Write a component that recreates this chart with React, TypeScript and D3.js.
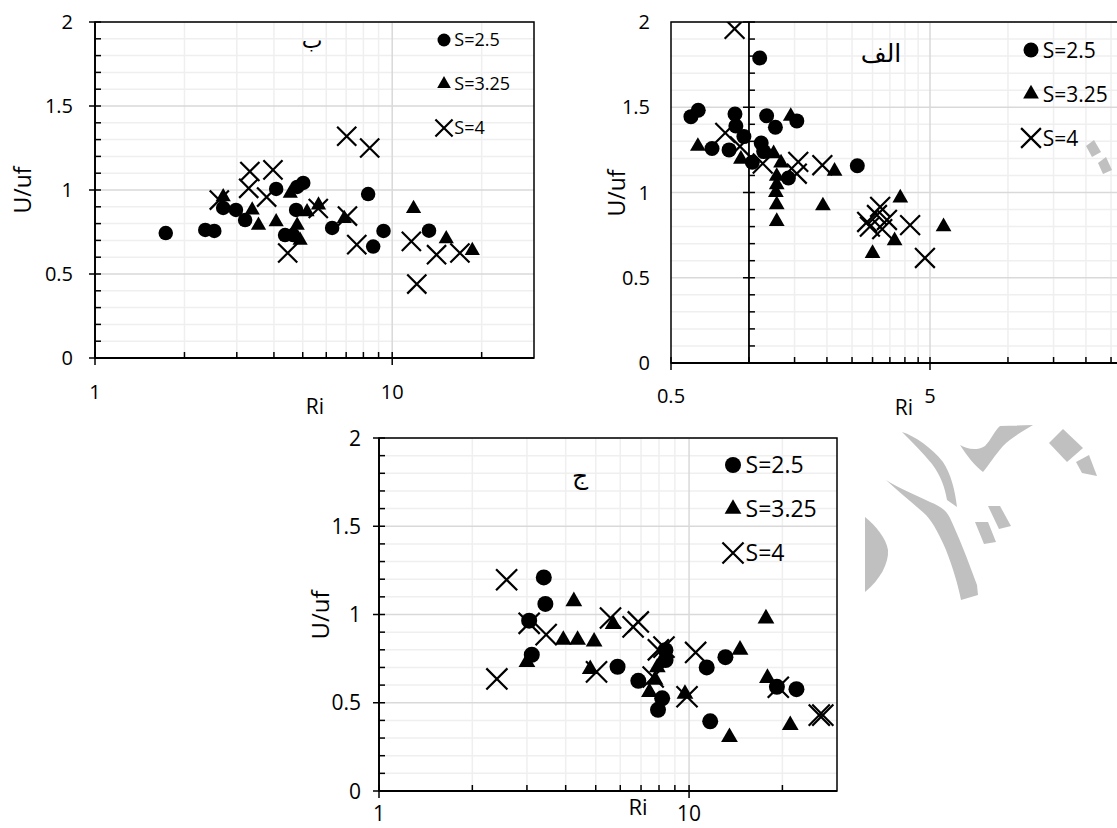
import React from 'react';
import * as d3 from 'd3';

// ---------- DATA ----------
const seriesNames = ['S=2.5', 'S=3.25', 'S=4'];
const yTickValues = [0, 0.5, 1, 1.5, 2];
const yTickLabels = ['0', '0.5', '1', '1.5', '2'];

// Panel ب (top-left)
const bCircleRi = [1.73, 2.35, 2.52, 2.70, 2.98, 3.20, 4.07, 4.36, 4.64, 4.75, 4.79, 5.02, 6.28, 8.30, 8.63, 9.35, 13.3];
const bCircleU = [0.744, 0.762, 0.756, 0.893, 0.881, 0.821, 1.006, 0.732, 0.732, 0.881, 1.018, 1.042, 0.774, 0.976, 0.663, 0.756, 0.758];
const bTriRi = [2.70, 3.38, 3.55, 4.07, 4.54, 4.79, 4.90, 5.17, 5.65, 6.9, 11.8, 15.2, 18.6];
const bTriU = [0.96, 0.88, 0.79, 0.81, 0.98, 0.79, 0.70, 0.87, 0.91, 0.83, 0.89, 0.71, 0.64];
const bXRi = [2.62, 3.29, 3.32, 3.78, 3.97, 4.45, 5.64, 7.03, 7.07, 7.6, 8.4, 11.6, 12.1, 14.1, 16.9];
const bXU = [0.94, 1.01, 1.11, 0.958, 1.12, 0.625, 0.89, 1.32, 0.845, 0.675, 1.25, 0.694, 0.44, 0.615, 0.625];
const bXTickValues = [1, 10];
const bXTickLabels = ['1', '10'];

// Panel الف (top-right)
const aCircleRi = [0.597, 0.637, 0.72, 0.838, 0.883, 0.89, 0.956, 1.03, 1.10, 1.115, 1.14, 1.17, 1.265, 1.42, 1.53, 2.62];
const aCircleU = [1.445, 1.482, 1.258, 1.25, 1.46, 1.39, 1.328, 1.177, 1.789, 1.29, 1.24, 1.45, 1.383, 1.085, 1.42, 1.157];
const aTriRi = [0.635, 0.931, 1.245, 1.33, 1.28, 1.28, 1.27, 1.28, 1.28, 1.45, 1.93, 2.14, 3.0, 3.65, 3.84, 5.64];
const aTriU = [1.271, 1.196, 1.228, 1.173, 1.095, 1.046, 1.001, 0.929, 0.831, 1.447, 0.922, 1.125, 0.643, 0.717, 0.968, 0.80];
const aXRi = [0.88, 0.81, 0.923, 1.13, 1.55, 1.53, 1.92, 2.86, 2.93, 3.12, 3.21, 3.41, 3.27, 4.19, 4.78];
const aXU = [1.96, 1.35, 1.27, 1.17, 1.18, 1.11, 1.16, 0.827, 0.80, 0.868, 0.915, 0.839, 0.785, 0.809, 0.616];
const aXTickValues = [0.5, 5];
const aXTickLabels = ['0.5', '5'];

// Panel ج (bottom)
const cCircleRi = [3.05, 3.11, 3.40, 3.44, 5.88, 6.86, 7.94, 8.19, 8.40, 8.39, 11.4, 11.7, 13.1, 19.2, 22.2];
const cCircleU = [0.965, 0.772, 1.21, 1.06, 0.704, 0.624, 0.46, 0.525, 0.742, 0.798, 0.70, 0.395, 0.758, 0.59, 0.577];
const cTriRi = [3.0, 4.25, 3.93, 4.37, 4.94, 4.80, 5.69, 7.45, 7.77, 7.9, 9.7, 13.5, 14.6, 17.7, 17.9, 21.2];
const cTriU = [0.73, 1.075, 0.856, 0.856, 0.846, 0.69, 0.945, 0.56, 0.63, 0.70, 0.55, 0.305, 0.80, 0.977, 0.64, 0.373];
const cXRi = [2.40, 2.58, 3.05, 3.46, 5.03, 5.58, 6.6, 6.86, 7.66, 7.96, 8.3, 9.85, 10.5, 19.4, 26.3, 27.0];
const cXU = [0.635, 1.197, 0.95, 0.886, 0.675, 0.98, 0.93, 0.958, 0.646, 0.80, 0.815, 0.534, 0.785, 0.588, 0.43, 0.43];
const cXTickValues = [1, 10];
const cXTickLabels = ['1', '10'];

// ---------- DRAWING ----------
const FONT = "'Open Sans', 'Liberation Sans', sans-serif";
const AR_FONT = "'DejaVu Sans', sans-serif";

type Pt = [number, number];
const zip = (a: number[], b: number[]): Pt[] => a.map((v, i) => [v, b[i]]);

function Marker({ kind, x, y, size }: { kind: number; x: number; y: number; size: number }) {
  if (kind === 0) return <circle cx={x} cy={y} r={size * 0.5} fill="#000" />;
  if (kind === 1) {
    const s = size * 1.05;
    const p = `M${x},${y - s * 0.58}L${x + s / 2},${y + s * 0.29}L${x - s / 2},${y + s * 0.29}Z`;
    return <path d={p} fill="#000" />;
  }
  const h = size * 0.66;
  return (
    <path d={`M${x - h},${y - h}L${x + h},${y + h}M${x - h},${y + h}L${x + h},${y - h}`} stroke="#000" strokeWidth={2.2} fill="none" />
  );
}

interface PanelProps {
  id: string;
  xDomain: [number, number];
  xRange: [number, number];
  yRange: [number, number];
  yAxisAtRi: number;
  xMinor: number[];
  xMajor: number[];
  xTickValues: number[];
  xTickLabels: string[];
  series: Pt[][];
  markerSize: number;
  tickFont: number;
  axisFont: number;
  legendFont: number;
  legend: { x: number; y0: number; dy: number; size: number };
  title: { text: string; x: number; y: number; size: number };
  yLabelRight: number;
  xLabelY: number;
  riPos: [number, number];
  ufPos: [number, number];
}

function Panel(p: PanelProps) {
  const x = d3.scaleLog().domain(p.xDomain).range(p.xRange);
  const y = d3.scaleLinear().domain([0, 2]).range(p.yRange);
  const [x0, x1] = p.xRange;
  const [yb, yt] = p.yRange;
  const axX = x(p.yAxisAtRi);
  const minorY = d3.range(1, 20).map((i) => i / 10).filter((v) => Math.abs(v * 2 - Math.round(v * 2)) > 1e-6);
  const clipId = `clip-${p.id}`;
  return (
    <g>
      <defs>
        <clipPath id={clipId}>
          <rect x={x0} y={yt} width={x1 - x0} height={yb - yt} />
        </clipPath>
      </defs>
      <rect x={x0} y={yt} width={x1 - x0} height={yb - yt} fill="#fff" />
      {minorY.map((v) => (
        <line key={'hm' + v} x1={x0} x2={x1} y1={y(v)} y2={y(v)} stroke="#efefef" strokeWidth={1.5} />
      ))}
      {p.xMinor.map((v) => (
        <line key={'vm' + v} x1={x(v)} x2={x(v)} y1={yt} y2={yb} stroke="#efefef" strokeWidth={1.5} />
      ))}
      {yTickValues.map((v) => (
        <line key={'hM' + v} x1={x0} x2={x1} y1={y(v)} y2={y(v)} stroke="#d9d9d9" strokeWidth={1.5} />
      ))}
      {p.xMajor.map((v) => (
        <line key={'vM' + v} x1={x(v)} x2={x(v)} y1={yt} y2={yb} stroke="#d9d9d9" strokeWidth={1.5} />
      ))}
      <rect x={x0} y={yt} width={x1 - x0} height={yb - yt} fill="none" stroke="#000" strokeWidth={1.5} />
      <line x1={axX} x2={axX} y1={yt} y2={yb} stroke="#000" strokeWidth={1.8} />
      {minorY.map((v) => (
        <line key={'yt' + v} x1={axX} x2={axX + 6} y1={y(v)} y2={y(v)} stroke="#000" strokeWidth={1.5} />
      ))}
      {yTickValues.map((v) => (
        <line key={'yT' + v} x1={axX - 6} x2={axX + 6} y1={y(v)} y2={y(v)} stroke="#000" strokeWidth={1.5} />
      ))}
      <line x1={x0} x2={x1} y1={yb} y2={yb} stroke="#000" strokeWidth={1.8} />
      {p.xMinor.map((v) => (
        <line key={'xt' + v} x1={x(v)} x2={x(v)} y1={yb - 6} y2={yb} stroke="#000" strokeWidth={1.5} />
      ))}
      {p.xMajor.concat([p.xDomain[0]]).map((v) => (
        <line key={'xT' + v} x1={x(v)} x2={x(v)} y1={yb - 6} y2={yb + 7} stroke="#000" strokeWidth={1.5} />
      ))}
      {yTickValues.map((v, i) => (
        <text key={'yl' + v} x={p.yLabelRight} y={y(v)} dy="0.36em" textAnchor="end" fontFamily={FONT} fontSize={p.tickFont} fill="#000">
          {yTickLabels[i]}
        </text>
      ))}
      {p.xTickValues.map((v, i) => (
        <text key={'xl' + v} x={x(v)} y={p.xLabelY} dy="0.36em" textAnchor="middle" fontFamily={FONT} fontSize={p.tickFont} fill="#000">
          {p.xTickLabels[i]}
        </text>
      ))}
      <text x={p.riPos[0]} y={p.riPos[1]} dy="0.36em" textAnchor="middle" fontFamily={FONT} fontSize={p.axisFont} fill="#000">Ri</text>
      <text transform={`translate(${p.ufPos[0]},${p.ufPos[1]}) rotate(-90)`} dy="0.36em" textAnchor="middle" fontFamily={FONT} fontSize={p.axisFont + 2} fill="#000">U/uf</text>
      <text x={p.title.x} y={p.title.y} dy="0.36em" textAnchor="middle" fontFamily={AR_FONT} fontSize={p.title.size} fill="#000">{p.title.text}</text>
      {seriesNames.map((n, i) => (
        <g key={'lg' + i}>
          <Marker kind={i} x={p.legend.x} y={p.legend.y0 + i * p.legend.dy} size={p.legend.size} />
          <text x={p.legend.x + p.legend.size * 0.72 + 1} y={p.legend.y0 + i * p.legend.dy} dy="0.36em" fontFamily={FONT} fontSize={p.legendFont} fill="#000">{n}</text>
        </g>
      ))}
      <g clipPath={`url(#${clipId})`}>
        {p.series.map((pts, si) =>
          pts.map((d, j) => <Marker key={`m${si}-${j}`} kind={si} x={x(d[0])} y={y(d[1])} size={p.markerSize} />)
        )}
      </g>
    </g>
  );
}

function Watermark() {
  const fill = '#c0c0c0';
  const shapes: string[] = [
    'M902,432 C915,436 932,448 943,462 C951,474 955,490 957,507 L947,500 C945,488 941,476 932,464 C922,452 912,442 902,432 Z',
    'M886,480 C897,487 915,495 930,502 C940,506 946,510 950,518 C958,535 968,560 977,585 L978,595 L961,600 C958,585 953,568 946,550 C940,536 934,524 926,515 C915,505 900,493 886,480 Z',
    'M960,445 C966,448 975,452 985,446 C991,440 995,430 1000,426 L1033,425 C1025,430 1012,437 1003,446 C995,455 989,465 983,472 C975,466 967,456 960,445 Z',
    'M1049,443 L1063,429 L1083,448 L1067,462 Z',
    'M1076,462 L1089,455 L1097,476 L1082,473 Z',
    'M988,506 L1000,506 L1011,526 L999,529 Z',
    'M975,522 L988,522 L996,542 L984,544 Z',
    'M865,517 C876,526 886,538 888,550 C889,563 880,580 865,592 Z',
    'M1086,146 L1094,140 L1101,152 L1092,157 Z',
    'M1098,163 L1106,157 L1112,170 L1103,174 Z',
  ];
  return (
    <g>
      {shapes.map((d, i) => (
        <path key={i} d={d} fill={fill} />
      ))}
    </g>
  );
}

export default function App() {
  const bSeries = [zip(bCircleRi, bCircleU), zip(bTriRi, bTriU), zip(bXRi, bXU)];
  const aSeries = [zip(aCircleRi, aCircleU), zip(aTriRi, aTriU), zip(aXRi, aXU)];
  const cSeries = [zip(cCircleRi, cCircleU), zip(cTriRi, cTriU), zip(cXRi, cXU)];
  const decadeMinor = (lo: number, hi: number) => {
    const out: number[] = [];
    for (let k = 2; k <= 9; k++) out.push(k * lo);
    for (let k = 2; k * lo * 10 < hi; k++) out.push(k * lo * 10);
    return out;
  };
  const aMinor: number[] = [];
  for (let k = 2; k <= 9; k++) aMinor.push(0.5 * k);
  for (let k = 2; k <= 9; k++) aMinor.push(5 * k);

  return (
    <svg width={1117} height={828} style={{ position: 'absolute', left: 0, top: 0, background: '#fff' }}>
      <rect x={0} y={0} width={1117} height={828} fill="#fff" />
      <Panel
        id="b"
        xDomain={[1, 30]}
        xRange={[95, 534]}
        yRange={[358, 22]}
        yAxisAtRi={1}
        xMinor={decadeMinor(1, 30)}
        xMajor={[10]}
        xTickValues={bXTickValues}
        xTickLabels={bXTickLabels}
        series={bSeries}
        markerSize={14.5}
        tickFont={20}
        axisFont={21}
        legendFont={18}
        legend={{ x: 444, y0: 40, dy: 44, size: 13 }}
        title={{ text: 'ب', x: 312, y: 40, size: 22 }}
        yLabelRight={73}
        xLabelY={392}
        riPos={[315, 406]}
        ufPos={[23, 190]}
      />
      <Panel
        id="a"
        xDomain={[0.5, 50]}
        xRange={[671, 1189]}
        yRange={[363, 22]}
        yAxisAtRi={1}
        xMinor={aMinor}
        xMajor={[5]}
        xTickValues={aXTickValues}
        xTickLabels={aXTickLabels}
        series={aSeries}
        markerSize={15}
        tickFont={20}
        axisFont={21}
        legendFont={21}
        legend={{ x: 1031, y0: 50, dy: 44, size: 15 }}
        title={{ text: 'الف', x: 881, y: 53, size: 25 }}
        yLabelRight={650}
        xLabelY={396}
        riPos={[904, 407]}
        ufPos={[617, 193]}
      />
      <Panel
        id="c"
        xDomain={[1, 30]}
        xRange={[379, 837]}
        yRange={[791, 438]}
        yAxisAtRi={1}
        xMinor={decadeMinor(1, 30)}
        xMajor={[10]}
        xTickValues={cXTickValues}
        xTickLabels={cXTickLabels}
        series={cSeries}
        markerSize={16}
        tickFont={21}
        axisFont={22}
        legendFont={23}
        legend={{ x: 733, y0: 465, dy: 44, size: 16 }}
        title={{ text: 'ج', x: 580, y: 475, size: 25 }}
        yLabelRight={361}
        xLabelY={813}
        riPos={[638, 807]}
        ufPos={[320, 615]}
      />
      <Watermark />
    </svg>
  );
}
